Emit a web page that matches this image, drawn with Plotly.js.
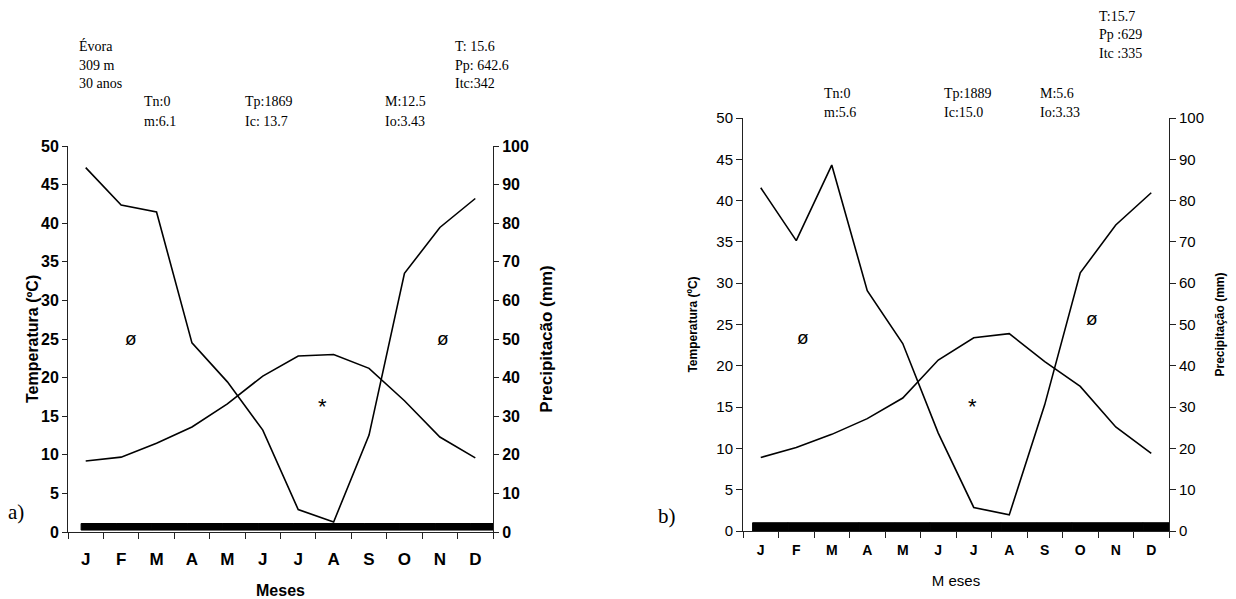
<!DOCTYPE html>
<html>
<head>
<meta charset="utf-8">
<script src="https://cdn.plot.ly/plotly-3.0.1.min.js"></script>
<style>html,body{margin:0;padding:0;background:#fff;}#chart{width:1236px;height:599px;}</style>
</head>
<body>
<div id="chart"></div>
<script>
// ---- data ----
const monthLabels = ['J','F','M','A','M','J','J','A','S','O','N','D'];
const monthPos = [0,1,2,3,4,5,6,7,8,9,10,11];

// a) Évora
const tempA   = [9.2, 9.7, 11.5, 13.6, 16.6, 20.2, 22.8, 23.0, 21.2, 17.0, 12.3, 9.6];
const precipA = [94.4, 84.7, 82.9, 49.0, 38.9, 26.4, 5.8, 2.6, 25.1, 67.0, 78.9, 86.4];
const barA    = [0.85, 0.85, 0.85, 0.85, 0.85, 0.85, 0.85, 0.85, 0.85, 0.85, 0.85, 0.85];
const barBaseA = 0.25;

// b)
const tempB   = [8.9, 10.1, 11.7, 13.6, 16.1, 20.7, 23.4, 23.9, 20.5, 17.5, 12.6, 9.4];
const precipB = [83.1, 70.3, 88.6, 58.2, 45.4, 23.7, 5.7, 3.9, 30.6, 62.5, 74.1, 81.9];
const barB    = [1.0, 1.0, 1.0, 1.0, 1.0, 1.0, 1.0, 1.0, 1.0, 1.0, 1.0, 1.0];

const W = 1236, H = 599;
const px = x => x / W;
const py = y => 1 - y / H;

const serif = 'Liberation Serif, Times New Roman, serif';
const sans = 'Liberation Sans, Arial, sans-serif';
const narrow = 'Liberation Sans Narrow, Arial Narrow, Liberation Sans, sans-serif';

const lineStyle = {color: '#000', width: 1.6};

const traces = [
  {x: monthPos, y: barA, base: barBaseA, type: 'bar', width: 1, offset: -0.13,
   marker: {color: '#000', line: {width: 1, color: '#000'}}, xaxis: 'x', yaxis: 'y', hoverinfo: 'skip'},
  {x: monthPos, y: tempA, type: 'scatter', mode: 'lines', line: lineStyle, xaxis: 'x', yaxis: 'y'},
  {x: monthPos, y: precipA, type: 'scatter', mode: 'lines', line: lineStyle, xaxis: 'x', yaxis: 'y2'},
  {x: monthPos, y: barB, base: 0, type: 'bar', width: 1, offset: -0.23,
   marker: {color: '#000', line: {width: 1, color: '#000'}}, xaxis: 'x2', yaxis: 'y3', hoverinfo: 'skip'},
  {x: monthPos, y: tempB, type: 'scatter', mode: 'lines', line: lineStyle, xaxis: 'x2', yaxis: 'y3'},
  {x: monthPos, y: precipB, type: 'scatter', mode: 'lines', line: lineStyle, xaxis: 'x2', yaxis: 'y4'}
];

const axisCommon = {showgrid: false, zeroline: false, showline: true, linecolor: '#222', linewidth: 1,
  tickcolor: '#222', tickwidth: 1, fixedrange: true};

function xAxis(domain, anchor, fontSize, weight, standoff, title, titleFont, titleStandoff) {
  return Object.assign({}, axisCommon, {
    domain: domain, anchor: anchor, range: [-0.5, 11.5], tickmode: 'array',
    tickvals: monthPos, ticktext: monthLabels, ticks: '', ticklabelstandoff: standoff,
    tickfont: {family: sans, size: fontSize, color: '#000', weight: weight},
    minor: {tick0: 0.5, dtick: 1, ticks: 'outside', ticklen: 6, tickcolor: '#222', tickwidth: 1},
    title: {text: title, font: titleFont, standoff: titleStandoff}
  });
}

const layout = {
  width: W, height: H, margin: {l: 0, r: 0, t: 0, b: 0},
  paper_bgcolor: '#fff', plot_bgcolor: 'rgba(0,0,0,0)', showlegend: false, barmode: 'overlay',
  xaxis: xAxis([px(68), px(493)], 'y', 17, 'bold', 12, 'Meses',
     {family: narrow, size: 16, color: '#000', weight: 'bold'}, 16),
  yaxis: Object.assign({}, axisCommon, {
    domain: [py(532), py(146)], anchor: 'x', range: [0, 50], dtick: 5, ticks: 'outside', ticklen: 5,
    tickfont: {family: narrow, size: 16, color: '#000', weight: 'bold'}
  }),
  yaxis2: Object.assign({}, axisCommon, {
    overlaying: 'y', side: 'right', anchor: 'x', range: [0, 100], dtick: 10, ticks: 'outside', ticklen: 5,
    tickfont: {family: narrow, size: 16, color: '#000', weight: 'bold'},
    title: {text: 'Precipitacão (mm)', font: {family: sans, size: 17, color: '#000', weight: 'bold'}, standoff: 12}
  }),
  xaxis2: xAxis([px(743), px(1169)], 'y3', 14, 'bold', 6, 'M eses',
     {family: sans, size: 15, color: '#000'}, 18),
  yaxis3: Object.assign({}, axisCommon, {
    domain: [py(531), py(118)], anchor: 'x2', range: [0, 50], dtick: 5, ticks: 'outside', ticklen: 6,
    tickfont: {family: sans, size: 15, color: '#000'},
    title: {text: 'Temperatura (ºC)', font: {family: sans, size: 12, color: '#000', weight: 'bold'}, standoff: 16}
  }),
  yaxis4: Object.assign({}, axisCommon, {
    overlaying: 'y3', side: 'right', anchor: 'x2', range: [0, 100], dtick: 10, ticks: 'outside', ticklen: 6,
    tickfont: {family: sans, size: 15, color: '#000'},
    title: {text: 'Precipitação (mm)', font: {family: sans, size: 12, color: '#000', weight: 'bold'}, standoff: 12}
  }),
  annotations: []
};

function note(text, x, y, size, family) {
  layout.annotations.push({text: text, x: px(x), y: py(y), xref: 'paper', yref: 'paper',
    xanchor: 'left', yanchor: 'middle', showarrow: false,
    font: {family: family || serif, size: size || 14, color: '#000'}});
}
// left y-axis title of panel a)
layout.annotations.push({text: 'Temperatura (ºC)', x: px(32), y: py(339), xref: 'paper', yref: 'paper',
  xanchor: 'center', yanchor: 'middle', textangle: -90, showarrow: false,
  font: {family: sans, size: 16, color: '#000', weight: 'bold'}});
// a) header
note('Évora', 77, 46); note('309 m', 77, 65); note('30 anos', 77, 83);
note('Tn:0', 142, 102); note('m:6.1', 142, 122);
note('Tp:1869', 243, 102); note('Ic: 13.7', 243, 122);
note('M:12.5', 383, 102); note('Io:3.43', 383, 122);
note('T: 15.6', 453, 46); note('Pp: 642.6', 453, 65); note('Itc:342', 453, 83);
// b) header
note('T:15.7', 1097, 16); note('Pp :629', 1097, 35); note('Itc :335', 1097, 54);
note('Tn:0', 822, 93); note('m:5.6', 822, 112);
note('Tp:1889', 942, 93); note('Ic:15.0', 942, 112);
note('M:5.6', 1038, 93); note('Io:3.33', 1038, 112);
// panel labels
note('a)', 6, 512, 21); note('b)', 656, 516, 21);
// symbols inside plots
function sym(t, x, y, size) {
  layout.annotations.push({text: t, x: px(x), y: py(y), xref: 'paper', yref: 'paper',
    xanchor: 'center', yanchor: 'middle', showarrow: false,
    font: {family: sans, size: size, color: '#000'}});
}
sym('ø', 131, 338, 19); sym('ø', 443, 338, 19); sym('*', 323, 406, 22);
sym('ø', 803, 337, 19); sym('ø', 1092, 318, 19); sym('*', 972, 406, 22);

Plotly.newPlot('chart', traces, layout, {displayModeBar: false, staticPlot: true});
</script>
</body>
</html>
